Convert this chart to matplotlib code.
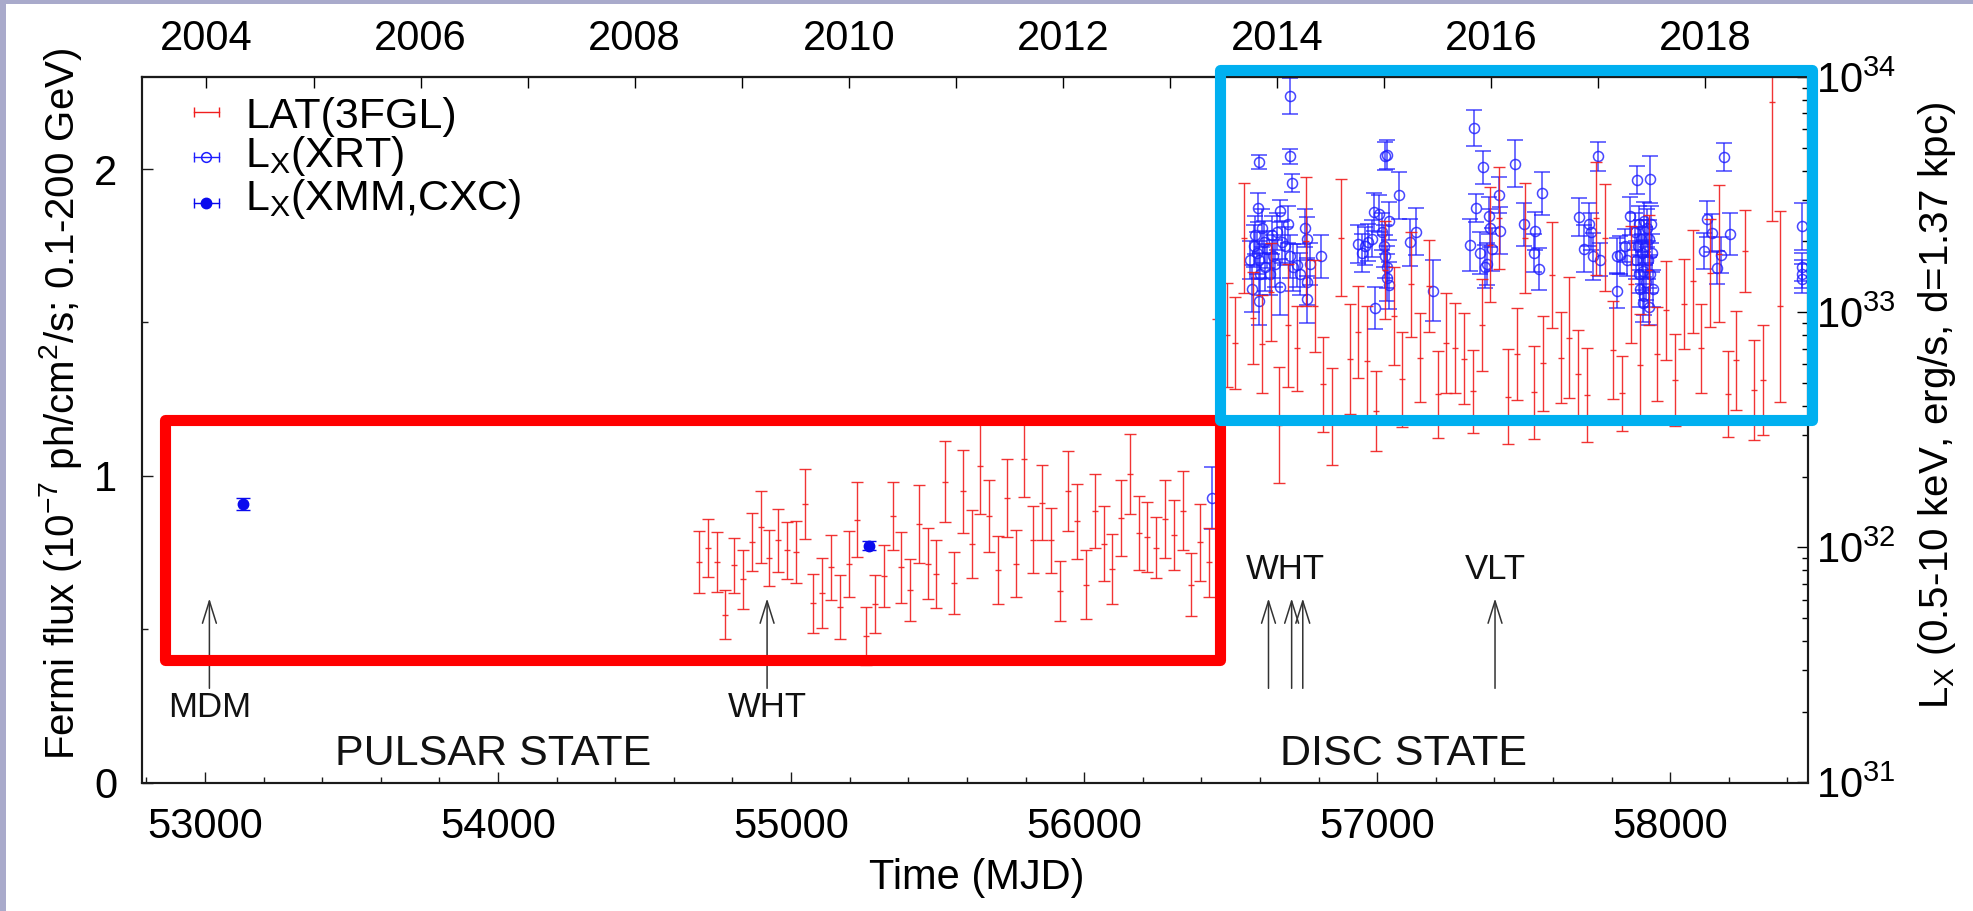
import numpy as np
import matplotlib
matplotlib.use("Agg")
import matplotlib.pyplot as plt
from matplotlib.patches import Rectangle
from matplotlib.ticker import FixedLocator, MultipleLocator, LogLocator, NullFormatter

plt.rcParams['font.family'] = ['Liberation Sans', 'DejaVu Sans']
plt.rcParams['mathtext.fontset'] = 'custom'
plt.rcParams['mathtext.rm'] = 'Liberation Sans'
plt.rcParams['mathtext.it'] = 'Liberation Sans:italic'
plt.rcParams['mathtext.bf'] = 'Liberation Sans:bold'
plt.rcParams['mathtext.default'] = 'regular'

# ---------------- data ----------------
# Fermi-LAT (3FGL) 30-day bins, flux in 1e-7 ph/cm^2/s
lat_mjd = [54686, 54716, 54746, 54776, 54806, 54836, 54866, 54896, 54926, 54956,
           54986, 55016, 55046, 55076, 55106, 55136, 55166, 55196, 55226, 55256,
           55286, 55316, 55346, 55376, 55406, 55436, 55466, 55496, 55526, 55556,
           55586, 55616, 55646, 55676, 55706, 55736, 55766, 55796, 55826, 55856,
           55886, 55916, 55946, 55976, 56006, 56036, 56066, 56096, 56126, 56156,
           56186, 56216, 56246, 56276, 56306, 56336, 56366, 56396, 56426, 56456,
           56486, 56516, 56546, 56576, 56606, 56636, 56666, 56696, 56726, 56756,
           56786, 56816, 56846, 56876, 56906, 56936, 56966, 56996, 57026, 57056,
           57086, 57116, 57146, 57176, 57206, 57236, 57266, 57296, 57326, 57356,
           57386, 57416, 57446, 57476, 57506, 57536, 57566, 57596, 57626, 57656,
           57686, 57716, 57746, 57776, 57806, 57836, 57866, 57896, 57926, 57956,
           57986, 58016, 58046, 58076, 58106, 58136, 58166, 58196, 58226, 58256,
           58286, 58316, 58346, 58376]
lat_flux = [0.719, 0.765, 0.719, 0.547, 0.708, 0.663, 0.783, 0.833, 0.732, 0.789,
            0.757, 0.752, 0.908, 0.585, 0.618, 0.701, 0.572, 0.713, 0.857, 0.478,
            0.582, 0.672, 0.868, 0.701, 0.629, 0.843, 0.713, 0.680, 0.980, 0.650,
            0.950, 0.778, 1.031, 0.868, 0.692, 0.928, 0.713, 1.056, 0.792, 0.912,
            0.789, 0.623, 0.950, 0.852, 0.645, 0.886, 0.778, 0.696, 0.863, 1.006,
            0.814, 0.799, 0.765, 0.859, 0.808, 0.886, 0.645, 0.783, 0.718,
            1.350, 1.458, 1.434, 1.776, 1.514, 1.430, 1.600, 1.166, 1.490, 1.415,
            1.764, 1.555, 1.298, 1.193, 1.776, 1.380, 1.470, 1.374, 1.210, 1.670,
            1.520, 1.315, 1.624, 1.385, 1.619, 1.265, 1.432, 1.417, 1.382, 1.275,
            1.490, 1.753, 1.840, 1.257, 1.397, 1.776, 1.272, 1.366, 1.654, 1.385,
            1.450, 1.333, 1.263, 1.840, 1.776, 1.409, 1.269, 1.624, 1.360, 1.670,
            1.397, 1.539, 1.312, 1.560, 1.634, 1.415, 1.660, 1.724, 1.266, 1.376,
            1.733, 1.280, 1.312, 2.219, 1.552]
lat_err = [0.102, 0.095, 0.097, 0.080, 0.090, 0.096, 0.094, 0.118, 0.090, 0.103,
           0.092, 0.102, 0.114, 0.096, 0.114, 0.105, 0.105, 0.107, 0.122, 0.094,
           0.094, 0.101, 0.111, 0.116, 0.101, 0.128, 0.116, 0.110, 0.132, 0.102,
           0.135, 0.110, 0.155, 0.118, 0.111, 0.127, 0.109, 0.125, 0.110, 0.123,
           0.105, 0.098, 0.130, 0.122, 0.113, 0.121, 0.122, 0.114, 0.123, 0.130,
           0.121, 0.114, 0.099, 0.126, 0.114, 0.129, 0.102, 0.125, 0.112,
           0.160, 0.170, 0.150, 0.180, 0.150, 0.160, 0.160, 0.190, 0.200, 0.140,
           0.210, 0.150, 0.155, 0.157, 0.190, 0.180, 0.150, 0.180, 0.130, 0.160,
           0.160, 0.155, 0.170, 0.146, 0.150, 0.143, 0.163, 0.147, 0.149, 0.134,
           0.150, 0.187, 0.166, 0.155, 0.150, 0.180, 0.152, 0.155, 0.172, 0.149,
           0.198, 0.143, 0.152, 0.184, 0.174, 0.160, 0.122, 0.190, 0.166, 0.180,
           0.153, 0.162, 0.149, 0.146, 0.167, 0.144, 0.176, 0.223, 0.140, 0.162,
           0.135, 0.162, 0.178, 0.390, 0.310]

# Swift-XRT luminosities: log10(Lx [erg/s]) and 1-sigma error in dex
xrt_mjd = [56436,
           56598, 56701, 56701, 56709, 56592, 56667, 56567, 56572, 56578, 56584,
           56589, 56595, 56598, 56601, 56606, 56612, 56618, 56623, 56635, 56641,
           56646, 56652, 56658, 56667, 56675, 56686, 56694, 56703, 56712, 56726,
           56737, 56754, 56760, 56762, 56762, 56771, 56808,
           56936, 56948, 56959, 56970, 56982, 56988, 57005, 57016, 57022, 57027,
           57033, 57035, 57039, 57039, 57027, 57033, 57073, 56993, 57113, 57133,
           57192, 57315, 57329, 57338, 57352, 57361, 57369, 57374, 57380, 57386,
           57391, 57416, 57420, 57471, 57500, 57534, 57539, 57551, 57562, 57687,
           57704, 57721, 57729, 57738, 57752, 57761, 57818, 57818,
           57829, 57846, 57852, 57863, 57886, 57930,
           57881, 57884, 57889, 57892, 57895, 57898, 57900, 57903, 57907, 57909,
           57911, 57915, 57918, 57920, 57923, 57926, 57929, 57932, 57934, 57937,
           57941, 57907,
           58114, 58125, 58142, 58159, 58173, 58184, 58205, 58449, 58449, 58449, 58449]
xrt_loglx = [32.21,
             33.639, 33.920, 33.662, 33.551, 33.445, 33.430, 33.222, 33.100, 33.282, 33.328,
             33.252, 33.222, 33.047, 33.161, 33.358, 33.297, 33.191, 33.267, 33.161, 33.328,
             33.237, 33.206, 33.343, 33.108, 33.297, 33.282, 33.373, 33.237, 33.191, 33.199,
             33.161, 33.358, 33.313, 33.130, 33.054, 33.206, 33.237,
             33.290, 33.252, 33.282, 33.297, 33.313, 33.427, 33.419, 33.343, 33.282, 33.237,
             33.191, 33.146, 33.389, 33.115, 33.665, 33.670, 33.498, 33.017, 33.297, 33.343,
             33.092, 33.287, 33.783, 33.442, 33.252, 33.616, 33.194, 33.206, 33.411, 33.358,
             33.267, 33.498, 33.346, 33.631, 33.373, 33.252, 33.346, 33.183, 33.505, 33.404,
             33.270, 33.373, 33.343, 33.237, 33.662, 33.222, 33.240, 33.092,
             33.244, 33.282, 33.222, 33.408, 33.563, 33.566,
             33.343, 33.222, 33.282, 33.161, 33.373, 33.100, 33.313, 33.252, 33.176, 33.070,
             33.389, 33.282, 33.130, 33.358, 33.222, 33.024, 33.313, 33.161, 33.373, 33.252,
             33.100, 33.040,
             33.259, 33.396, 33.336, 33.188, 33.244, 33.659, 33.332, 33.366, 33.191, 33.161, 33.143]
xrt_err_dex = [0.13,
               0.03, 0.076, 0.03, 0.038, 0.061, 0.046, 0.08, 0.10, 0.09, 0.08,
               0.09, 0.08, 0.10, 0.09, 0.08, 0.09, 0.10, 0.08, 0.09, 0.08,
               0.09, 0.10, 0.08, 0.12, 0.09, 0.08, 0.08, 0.09, 0.10, 0.09,
               0.09, 0.08, 0.09, 0.10, 0.10, 0.09, 0.09,
               0.08, 0.08, 0.08, 0.08, 0.08, 0.08, 0.08, 0.08, 0.09, 0.09,
               0.09, 0.10, 0.08, 0.10, 0.06, 0.06, 0.10, 0.09, 0.10, 0.10,
               0.13, 0.11, 0.076, 0.06, 0.09, 0.07, 0.09, 0.09, 0.08, 0.08,
               0.09, 0.076, 0.10, 0.10, 0.09, 0.08, 0.08, 0.09, 0.09, 0.08,
               0.10, 0.09, 0.08, 0.10, 0.06, 0.07, 0.076, 0.076,
               0.08, 0.07, 0.07, 0.08, 0.06, 0.10,
               0.08, 0.08, 0.08, 0.08, 0.08, 0.08, 0.08, 0.08, 0.08, 0.08,
               0.08, 0.08, 0.08, 0.08, 0.08, 0.08, 0.08, 0.08, 0.08, 0.08,
               0.08, 0.08,
               0.076, 0.076, 0.08, 0.07, 0.076, 0.06, 0.09, 0.10, 0.06, 0.06, 0.06]

# XMM-Newton / Chandra luminosities
xmm_mjd = [53130, 55266]
xmm_loglx = [32.184, 32.007]
xmm_err_dex = [0.025, 0.02]

# Top axis: calendar years (MJD of Jan 1)
year_major_mjd = [53005, 53736, 54466, 55197, 55927, 56658, 57388, 58119]
year_major_lab = ['2004', '2006', '2008', '2010', '2012', '2014', '2016', '2018']
year_minor_mjd = [53371, 54101, 54832, 55562, 56293, 57023, 57754]

# Optical observation markers
obs_arrow_mjd = [53015, 54918, 56629, 56708, 56746, 57402]
obs_labels = ['MDM', 'WHT', 'WHT', 'VLT']
obs_label_mjd = [53015, 54918, 56686, 57402]
obs_label_f = [0.243, 0.243, 0.694, 0.694]

state_labels = ['PULSAR STATE', 'DISC STATE']
state_mjd = [53983, 57090]

# ---------------- figure ----------------
W_PX, H_PX = 1973, 911
fig = plt.figure(figsize=(W_PX / 100, H_PX / 100), dpi=100, facecolor='white')

# slide frame (lavender strips on the left and top)
fig.add_artist(Rectangle((0, 0), 6 / W_PX, 1, transform=fig.transFigure,
                         facecolor='#a9aacb', edgecolor='none', zorder=0))
fig.add_artist(Rectangle((0, 1 - 4 / H_PX), 1, 4 / H_PX, transform=fig.transFigure,
                         facecolor='#a9aacb', edgecolor='none', zorder=0))

left, right, top, bottom = 142, 1808, 77, 782.5
ax = fig.add_axes([left / W_PX, (H_PX - bottom) / H_PX,
                   (right - left) / W_PX, (bottom - top) / H_PX])
ax.set_xlim(52785, 58470)
ax.set_ylim(0, 2.30)
ax2 = ax.twinx()
ax2.set_yscale('log')
ax2.set_ylim(1e31, 1e34)
ax.set_zorder(ax2.get_zorder() + 1)
ax.patch.set_visible(False)

red = '#f01e1e'
blue = '#1e1eff'

# LAT
ax.errorbar(lat_mjd, lat_flux, yerr=lat_err, fmt='_', color=red, ecolor=red,
            ms=5, mew=1.0, elinewidth=1.0, capsize=4.2, capthick=1.0, alpha=0.9, zorder=2)

# XRT
xl = np.power(10.0, xrt_loglx)
xlo = xl - np.power(10.0, np.array(xrt_loglx) - np.array(xrt_err_dex))
xhi = np.power(10.0, np.array(xrt_loglx) + np.array(xrt_err_dex)) - xl
ax2.errorbar(xrt_mjd, xl, yerr=[xlo, xhi], fmt='o', mfc='none', mec=blue, ecolor=blue,
             ms=7.2, mew=1.1, elinewidth=1.1, capsize=6, capthick=1.1, alpha=0.82)

# XMM / CXC
ml = np.power(10.0, xmm_loglx)
mlo = ml - np.power(10.0, np.array(xmm_loglx) - np.array(xmm_err_dex))
mhi = np.power(10.0, np.array(xmm_loglx) + np.array(xmm_err_dex)) - ml
ax2.errorbar(xmm_mjd, ml, yerr=[mlo, mhi], fmt='o', color='#0a0aee', ecolor='#0a0aee',
             ms=7.5, elinewidth=1.0, capsize=5, capthick=1.0)

# ---------------- axes styling ----------------
for a in (ax, ax2):
    for s in a.spines.values():
        s.set_linewidth(1.5)
        s.set_color('#1a1a1a')

ax.xaxis.set_major_locator(FixedLocator([53000, 54000, 55000, 56000, 57000, 58000]))
ax.xaxis.set_minor_locator(MultipleLocator(200))
ax.yaxis.set_major_locator(FixedLocator([0, 1, 2]))
ax.yaxis.set_minor_locator(MultipleLocator(0.5))
ax.tick_params(axis='both', which='both', direction='in', colors='#1a1a1a', labelcolor='black')
ax.tick_params(axis='x', which='major', length=8, width=1.0, labelsize=30, pad=18, top=False)
ax.tick_params(axis='x', which='minor', length=4.3, width=1.0, top=False)
ax.tick_params(axis='y', which='major', length=8, width=1.0, labelsize=30, pad=18, right=False)
ax.tick_params(axis='y', which='minor', length=4.3, width=1.0, right=False)

ax2.yaxis.set_major_locator(LogLocator(base=10, numticks=10))
ax2.yaxis.set_minor_locator(LogLocator(base=10, subs=np.arange(2, 10), numticks=20))
ax2.yaxis.set_minor_formatter(NullFormatter())
ax2.tick_params(axis='y', which='major', direction='in', length=8, width=1.0, labelsize=30, pad=6)
ax2.tick_params(axis='y', which='minor', direction='in', length=4.3, width=1.0)

sec = ax.secondary_xaxis('top')
sec.set_xticks(year_major_mjd, labels=year_major_lab)
sec.xaxis.set_minor_locator(FixedLocator(year_minor_mjd))
sec.tick_params(axis='x', which='major', direction='in', length=8, width=1.0, labelsize=30, pad=13)
sec.tick_params(axis='x', which='minor', direction='in', length=8, width=1.0)
sec.spines['top'].set_linewidth(1.5)

# ---------------- annotations ----------------
for m in obs_arrow_mjd:
    ax.annotate('', xy=(m, 0.600), xytext=(m, 0.307),
                arrowprops=dict(arrowstyle='->,head_length=0.8,head_width=0.25',
                                color='#333333', lw=1.1, mutation_scale=20,
                                shrinkA=0, shrinkB=0))
for lab, m, f in zip(obs_labels, obs_label_mjd, obs_label_f):
    ax.text(m, f, lab, ha='center', va='center', fontsize=25, color='#111111')
for lab, m in zip(state_labels, state_mjd):
    ax.text(m, 0.057, lab, ha='center', va='baseline', fontsize=31, color='#111111')

# manual legend (horizontal error-bar symbols)
leg_y = [0.9497, 0.8873, 0.8214]
leg_base = [0.9277, 0.8724, 0.8115]
leg_text = ['LAT(3FGL)', r'L$_\mathrm{X}$(XRT)', r'L$_\mathrm{X}$(XMM,CXC)']
leg_col = [red, blue, '#0a0aee']
sx, hw = 0.0385, 0.0075
for i in range(3):
    y = leg_y[i]
    ax.plot([sx - hw, sx + hw], [y, y], transform=ax.transAxes, color=leg_col[i], lw=1.0,
            clip_on=False)
    ax.plot([sx - hw, sx + hw], [y, y], transform=ax.transAxes, ls='none', marker='|',
            ms=7, mew=1.0, color=leg_col[i], clip_on=False)
    if i == 1:
        ax.plot([sx], [y], transform=ax.transAxes, marker='o', ms=7, mfc='none',
                mec=blue, mew=1.1, clip_on=False)
    elif i == 2:
        ax.plot([sx], [y], transform=ax.transAxes, marker='o', ms=7.5, color='#0a0aee',
                clip_on=False)
    ax.text(0.0621, leg_base[i], leg_text[i], transform=ax.transAxes, ha='left',
            va='baseline', fontsize=31)

# axis titles
fig.text(61 / W_PX, 1 - 404 / H_PX,
         r'Fermi flux (10$^{-7}$ ph/cm$^{2}$/s; 0.1-200 GeV)',
         rotation=90, ha='center', va='center', fontsize=29)
fig.text(1937 / W_PX, 1 - 405 / H_PX,
         r'L$_\mathrm{X}$ (0.5-10 keV, erg/s, d=1.37 kpc)',
         rotation=90, ha='center', va='center', fontsize=29)
fig.text(977 / W_PX, 1 - 878 / H_PX, 'Time (MJD)', ha='center', va='center', fontsize=30)

# highlight boxes drawn on the slide
red_box = Rectangle((52862, 0.398), 56464 - 52862, 1.181 - 0.398, transform=ax.transData,
                    fill=False, edgecolor='#ff0000', lw=8, joinstyle='round', zorder=10,
                    clip_on=False)
blue_box = Rectangle((56464, 1.181), 58484 - 56464, 2.324 - 1.181, transform=ax.transData,
                     fill=False, edgecolor='#00b0f0', lw=8, joinstyle='round', zorder=11,
                     clip_on=False)
fig.add_artist(red_box)
fig.add_artist(blue_box)

fig.savefig('out.png', dpi=100, facecolor='white')
